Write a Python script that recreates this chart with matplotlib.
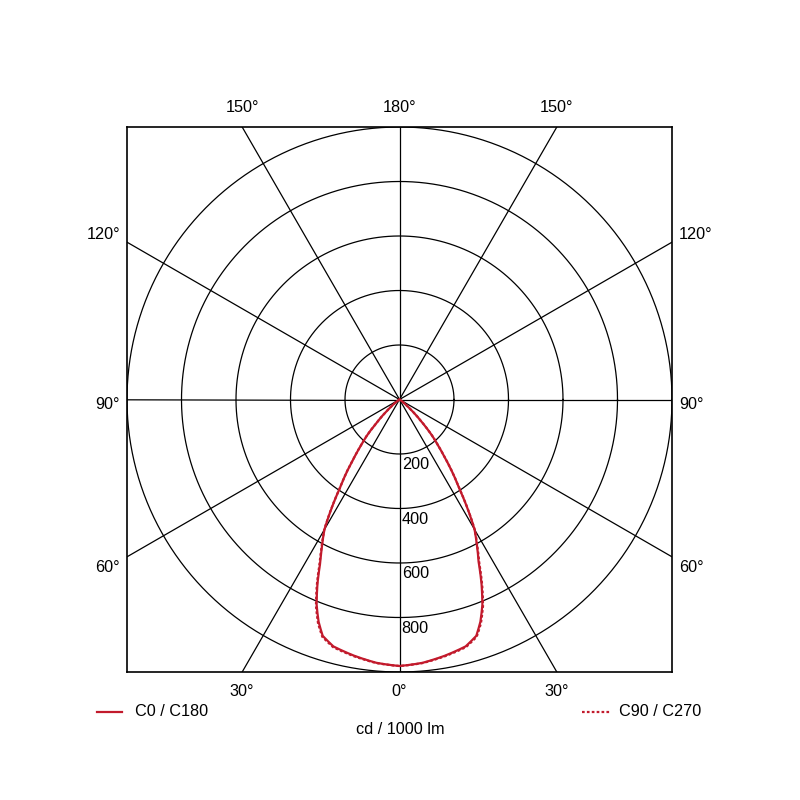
import numpy as np
import matplotlib
matplotlib.use("Agg")
import matplotlib.pyplot as plt

plt.rcParams["font.family"] = ["Liberation Sans", "DejaVu Sans"]

RED = "#c21a2c"
FS = 11.7

# gamma angle (deg) and intensity (cd / 1000 lm)
gamma = [0, 5, 10, 15, 18, 20, 22, 24, 26, 28, 30, 32, 34, 36, 38, 40, 42, 45, 48, 50, 55, 60, 90, 180]
c0_c180 = [978, 970, 955, 938, 912, 868, 812, 740, 662, 605, 551, 470, 390, 330, 270, 220, 180, 110, 60, 35, 10, 2, 0, 0]
c90_c270 = [978, 971, 957, 941, 916, 874, 818, 746, 668, 608, 553, 472, 391, 331, 271, 221, 181, 110, 60, 35, 10, 2, 0, 0]

rings = [200, 400, 600, 800, 1000]
ring_labels = ["200", "400", "600", "800"]
spokes = [0, 30, 60, 90, 120, 150, 180]

fig = plt.figure(figsize=(8, 8), dpi=100)
ax = fig.add_axes([127 / 800, 128 / 800, 545 / 800, 545 / 800])
ax.set_xlim(-1000, 1000)
ax.set_ylim(-1000, 1000)
ax.set_aspect("equal")
ax.set_xticks([]); ax.set_yticks([])
for s in ax.spines.values():
    s.set_linewidth(1.2)

t = np.linspace(0, 2 * np.pi, 400)
for r in rings:
    ax.plot(r * np.cos(t), r * np.sin(t), color="black", lw=0.9)

# spokes through centre (gamma measured from downward vertical)
for g in range(0, 360, 30):
    a = np.radians(g)
    ax.plot([0, 3000 * np.sin(a)], [0, -3000 * np.cos(a)], color="black", lw=0.9)

for r, lab in zip(rings, ring_labels):
    ax.text(8, -r - 12, lab, ha="left", va="top", fontsize=FS)


def curve(vals):
    gg = np.linspace(0, 180, 721)
    v = np.interp(gg, gamma, vals)
    a = np.radians(gg)
    x = np.concatenate([-v[::-1] * np.sin(a[::-1]), v * np.sin(a)])
    y = np.concatenate([-v[::-1] * np.cos(a[::-1]), -v * np.cos(a)])
    return x, y


x, y = curve(c0_c180)
ax.plot(x, y, color=RED, lw=1.6, solid_capstyle="round")
x, y = curve(c90_c270)
ax.plot(x, y, color=RED, lw=1.6, ls=(0, (1.2, 1.0)))

# angle labels outside the frame
for g in spokes:
    a = np.radians(g)
    for side in (-1, 1):
        if g in (0, 180) and side == 1:
            continue
        dx, dy = side * np.sin(a), -np.cos(a)
        k = 1000 / max(abs(dx), abs(dy))
        px, py = dx * k, dy * k
        lab = f"{g}°"
        if abs(py) >= 999:
            ty = py + (-70 if py < 0 else 70)
            ax.text(px, ty, lab, ha="center", va="center", fontsize=FS, clip_on=False)
        else:
            ty = py + (27 if py > 1 else (-38 if py < -1 else -20))
            if px < 0:
                ax.text(-1026, ty, lab, ha="right", va="center", fontsize=FS, clip_on=False)
            else:
                ax.text(1026, ty, lab, ha="left", va="center", fontsize=FS, clip_on=False)

# legend and unit
fig.lines.append(plt.Line2D([97 / 800, 122 / 800], [88 / 800, 88 / 800], color=RED, lw=1.6,
                            transform=fig.transFigure))
fig.text(135 / 800, 88 / 800, "C0 / C180", ha="left", va="center", fontsize=FS)
fig.lines.append(plt.Line2D([582 / 800, 610 / 800], [88 / 800, 88 / 800], color=RED, lw=1.6,
                            ls=(0, (1.2, 1.0)), transform=fig.transFigure))
fig.text(701 / 800, 88 / 800, "C90 / C270", ha="right", va="center", fontsize=FS)
fig.text(0.5, 70 / 800, "cd / 1000 lm", ha="center", va="center", fontsize=FS)

fig.savefig("out.png", dpi=100, facecolor="white")
